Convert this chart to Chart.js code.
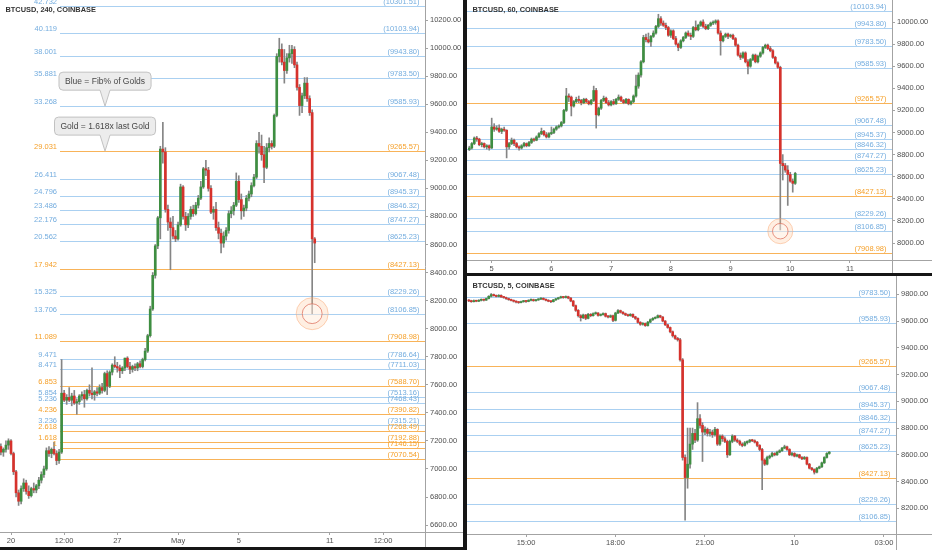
<!DOCTYPE html>
<html>
<head>
<meta charset="utf-8">
<style>
    body { margin: 0; background: #fff; width: 932px; height: 550px; overflow: hidden; position: relative; }
    canvas { position: absolute; }
    .sep { position: absolute; background: #161616; }
</style>
</head>
<body>
<canvas id="h4" width="463" height="547" style="left:0;top:0"></canvas>
<canvas id="h1" width="465" height="273" style="left:467px;top:0"></canvas>
<canvas id="m5" width="465" height="274" style="left:467px;top:276px"></canvas>
<div class="sep" style="left:463px;top:0;width:4px;height:550px"></div>
<div class="sep" style="left:463px;top:273px;width:469px;height:3px"></div>
<div class="sep" style="left:0;top:547px;width:467px;height:3px"></div>

<script src="https://cdn.jsdelivr.net/npm/chart.js"></script>
<script type="text/javascript">
    // fib / gold levels shared by all three panels
    const fibPrices = [10301.51, 10103.94, 9943.80, 9783.50, 9585.93, 9265.57, 9067.48, 8945.37, 8846.32, 8747.27,
        8625.23, 8427.13, 8229.26, 8106.85, 7908.98, 7786.64, 7711.03, 7588.70, 7513.16, 7468.43,
        7390.82, 7315.21, 7268.49, 7192.88, 7146.15, 7070.54];
    const fibRatios = ['42.732', '40.119', '38.001', '35.881', '33.268', '29.031', '26.411', '24.796', '23.486', '22.176',
        '20.562', '17.942', '15.325', '13.706', '11.089', '9.471', '8.471', '6.853', '5.854', '5.236',
        '4.236', '3.236', '2.618', '1.618', '1', ''];
    const fibKinds = ['fib', 'fib', 'fib', 'fib', 'fib', 'gold', 'fib', 'fib', 'fib', 'fib',
        'fib', 'gold', 'fib', 'fib', 'gold', 'fib', 'fib', 'gold', 'fib', 'fib',
        'gold', 'fib', 'gold', 'gold', 'gold', 'gold'];

    // 240 min candles [open, high, low, close], first one at hour -16 (hours from Apr 20 00:00)
    const h4Start = -16;
    const h4Step = 4;
    const h4Candles = [
        [7160,7180,7100,7120],[7120,7150,7090,7140],[7140,7200,7120,7170],[7170,7215,7140,7200],[7200,7210,7100,7110],
        [7110,7120,6960,6980],[6980,6990,6800,6830],[6830,6850,6740,6770],[6770,6880,6750,6860],[6860,6930,6840,6900],
        [6900,6920,6820,6840],[6840,6880,6790,6810],[6810,6870,6800,6860],[6860,6900,6830,6850],[6850,6890,6830,6880],
        [6880,6940,6860,6920],[6920,6980,6900,6960],[6960,7020,6940,7000],[7000,7150,6990,7130],[7130,7160,7090,7110],
        [7110,7150,7080,7140],[7140,7190,7100,7110],[7110,7130,7030,7060],[7060,7140,7040,7120],[7120,7780,7110,7540],
        [7540,7560,7480,7490],[7490,7530,7460,7510],[7510,7580,7480,7490],[7490,7540,7450,7520],[7520,7560,7460,7470],
        [7470,7500,7390,7480],[7480,7530,7460,7520],[7520,7550,7490,7530],[7530,7560,7440,7500],[7500,7570,7490,7560],
        [7560,7600,7520,7540],[7540,7720,7500,7530],[7530,7560,7490,7550],[7550,7580,7520,7540],[7540,7600,7530,7580],
        [7580,7610,7540,7560],[7560,7690,7550,7680],[7680,7700,7530,7590],[7590,7700,7580,7690],[7690,7750,7670,7740],
        [7740,7800,7720,7730],[7730,7760,7690,7720],[7720,7740,7650,7700],[7700,7730,7680,7720],[7720,7790,7700,7790],
        [7790,7800,7720,7730],[7730,7760,7680,7710],[7710,7740,7690,7730],[7730,7750,7700,7720],[7720,7760,7700,7750],
        [7750,7770,7720,7730],[7730,7790,7720,7780],[7780,7860,7770,7840],[7840,7960,7830,7950],[7950,8160,7940,8140],
        [8140,8400,8130,8380],[8380,8600,8360,8590],[8590,8800,8570,8790],[8790,9300,8640,9280],[9280,9470,9180,9260],
        [9260,9290,8830,8850],[8850,8880,8700,8760],[8760,8790,8420,8720],[8720,8800,8640,8660],[8660,8700,8620,8640],
        [8640,8760,8630,8740],[8740,9030,8730,9010],[9010,9020,8780,8800],[8800,8830,8700,8740],[8740,8820,8720,8800],
        [8800,8870,8780,8850],[8850,8880,8800,8820],[8820,8900,8810,8880],[8880,8950,8860,8930],[8930,9050,8920,9010],
        [9010,9150,9000,9140],[9140,9200,9090,9130],[9130,9150,8980,9000],[9000,9020,8820,8830],[8830,8870,8780,8850],
        [8850,8900,8700,8720],[8720,8760,8640,8680],[8680,8710,8540,8610],[8610,8690,8580,8660],[8660,8720,8630,8700],
        [8700,8840,8680,8820],[8820,8870,8790,8840],[8840,8900,8810,8880],[8880,9110,8870,9050],[9050,9090,8900,8920],
        [8920,8960,8780,8840],[8840,8880,8800,8860],[8860,8950,8840,8930],[8930,8980,8910,8960],[8960,9040,8940,9020],
        [9020,9100,9010,9080],[9080,9340,9070,9320],[9320,9400,9250,9300],[9300,9380,9200,9240],[9240,9300,9040,9150],
        [9150,9320,9140,9290],[9290,9360,9260,9320],[9320,9340,9280,9300],[9300,9530,9290,9520],[9520,9960,9510,9940],
        [9940,10070,9900,9990],[9990,10030,9880,9900],[9900,9990,9750,9840],[9840,9960,9820,9930],[9930,10020,9900,9960],
        [9960,10020,9890,9990],[9990,10010,9860,9880],[9880,9900,9700,9720],[9720,9740,9520,9590],[9590,9680,9540,9660],
        [9660,9790,9640,9750],[9750,9790,9620,9640],[9640,9660,9520,9540],[9540,9560,8106,8640],[8640,8650,8470,8610]
    ];
    const h4PriceTicks = [6600, 6800, 7000, 7200, 7400, 7600, 7800, 8000, 8200, 8400, 8600, 8800, 9000, 9200, 9400, 9600, 9800, 10000, 10200];
    const h4TimeTicks = [0, 84, 168, 264, 360, 504, 588];
    const h4TimeLabels = ['20', '12:00', '27', 'May', '5', '11', '12:00'];

    // 60 min candles, first one at hour -9 (hours from May 5 00:00)
    const h1Start = -9;
    const h1Step = 1;
    const h1Candles = [
        [8846,8876,8836,8860],[8860,8910,8850,8900],[8900,8960,8890,8950],[8950,8965,8920,8940],[8940,8948,8880,8890],
        [8890,8912,8870,8900],[8900,8906,8860,8870],[8870,8890,8850,8880],[8880,8888,8840,8860],[8860,9130,8855,9050],
        [9050,9080,9010,9030],[9030,9060,9020,9040],[9040,9070,9000,9010],[9010,9040,8990,9030],[9030,9050,9010,9020],
        [9020,9025,8770,8870],[8870,8910,8850,8900],[8900,8950,8890,8930],[8930,8940,8880,8900],[8900,8910,8860,8870],
        [8870,8880,8840,8860],[8860,8890,8850,8880],[8880,8910,8870,8900],[8900,8906,8870,8880],[8880,8920,8875,8910],
        [8910,8950,8900,8940],[8940,8950,8920,8930],[8930,8970,8925,8960],[8960,9000,8950,8990],[8990,9040,8980,9010],
        [9010,9020,8970,8980],[8980,9000,8950,8960],[8960,9000,8950,8990],[8990,9050,8980,9000],[9000,9040,8990,9030],
        [9030,9060,9020,9050],[9050,9070,9040,9060],[9060,9100,9050,9090],[9090,9210,9080,9200],[9200,9400,9190,9330],
        [9330,9350,9280,9320],[9320,9330,9150,9240],[9240,9290,9230,9280],[9280,9320,9270,9300],[9300,9330,9270,9290],
        [9290,9300,9250,9270],[9270,9310,9260,9300],[9300,9310,9270,9280],[9280,9290,9250,9260],[9260,9300,9250,9290],
        [9290,9420,9280,9380],[9380,9400,9040,9160],[9160,9230,9150,9220],[9220,9300,9210,9290],[9290,9330,9280,9310],
        [9310,9320,9260,9270],[9270,9290,9240,9250],[9250,9290,9240,9280],[9280,9300,9250,9260],[9260,9310,9255,9300],
        [9300,9340,9290,9320],[9320,9330,9280,9290],[9290,9300,9260,9270],[9270,9310,9260,9300],[9300,9305,9250,9260],
        [9260,9290,9250,9280],[9280,9340,9270,9330],[9330,9520,9320,9420],[9420,9540,9400,9520],[9520,9650,9500,9640],
        [9640,9880,9630,9860],[9860,9890,9820,9840],[9840,9900,9810,9820],[9820,9880,9780,9870],[9870,9920,9860,9900],
        [9900,9970,9890,9960],[9960,10070,9950,10030],[10030,10050,9970,9990],[9990,10010,9960,9970],[9970,9990,9930,9950],
        [9950,9960,9870,9880],[9880,9930,9860,9920],[9920,9930,9840,9850],[9850,9870,9790,9800],[9800,9810,9740,9770],
        [9770,9840,9760,9830],[9830,9870,9820,9860],[9860,9910,9850,9900],[9900,9920,9870,9880],[9880,9900,9840,9870],
        [9870,9960,9860,9950],[9950,10010,9920,9930],[9930,9980,9920,9970],[9970,10010,9960,10000],[10000,10020,9950,9960],
        [9960,9980,9930,9940],[9940,9980,9930,9970],[9970,10000,9960,9990],[9990,10010,9975,9995],[9995,10020,9980,10010],
        [10010,10020,9890,9900],[9900,9920,9700,9830],[9830,9880,9820,9870],[9870,9900,9860,9890],[9890,9900,9850,9870],
        [9870,9890,9860,9880],[9880,9890,9840,9850],[9850,9860,9780,9790],[9790,9800,9690,9700],[9700,9720,9660,9680],
        [9680,9730,9670,9720],[9720,9730,9630,9640],[9640,9660,9530,9600],[9600,9670,9590,9660],[9660,9710,9650,9700],
        [9700,9710,9630,9640],[9640,9700,9630,9690],[9690,9730,9680,9720],[9720,9780,9710,9770],[9770,9800,9760,9790],
        [9790,9800,9750,9760],[9760,9780,9730,9740],[9740,9750,9670,9680],[9680,9690,9620,9630],[9630,9640,9580,9590],
        [9590,9600,8118,8720],[8720,8800,8570,8700],[8700,8720,8640,8660],[8660,8700,8340,8620],[8620,8640,8550,8560],
        [8560,8580,8460,8540],[8540,8640,8530,8630]
    ];
    const h1PriceTicks = [8000, 8200, 8400, 8600, 8800, 9000, 9200, 9400, 9600, 9800, 10000];
    const h1TimeTicks = [0, 24, 48, 72, 96, 120, 144];
    const h1TimeLabels = ['5', '6', '7', '8', '9', '10', '11'];

    // 5 min candles, first one at minute -115 (minutes from May 9 15:00)
    const m5Start = -115;
    const m5Step = 5;
    const m5Candles = [
        [9755,9760,9744,9750],[9750,9756,9740,9745],[9745,9758,9742,9752],[9752,9756,9744,9748],[9748,9760,9745,9755],
        [9755,9766,9750,9760],[9760,9764,9750,9756],[9756,9772,9754,9768],[9768,9790,9765,9785],[9785,9806,9780,9798],
        [9798,9802,9786,9790],[9790,9795,9780,9784],[9784,9798,9780,9792],[9792,9796,9776,9780],[9780,9785,9770,9776],
        [9776,9780,9762,9768],[9768,9772,9755,9760],[9760,9765,9750,9754],[9754,9758,9742,9748],[9748,9752,9736,9742],
        [9742,9746,9732,9738],[9738,9750,9735,9745],[9745,9755,9740,9750],[9750,9754,9740,9746],[9746,9760,9744,9755],
        [9755,9766,9750,9760],[9760,9764,9748,9752],[9752,9762,9748,9758],[9758,9768,9754,9764],[9764,9776,9760,9770],
        [9770,9774,9758,9762],[9762,9766,9750,9755],[9755,9760,9744,9748],[9748,9752,9738,9745],[9745,9762,9742,9758],
        [9758,9770,9754,9766],[9766,9778,9762,9774],[9774,9786,9770,9780],[9780,9784,9770,9776],[9776,9788,9772,9782],
        [9782,9786,9766,9772],[9772,9776,9744,9750],[9750,9754,9708,9715],[9715,9720,9672,9680],[9680,9686,9630,9640],
        [9640,9648,9600,9625],[9625,9652,9618,9645],[9645,9650,9610,9620],[9620,9658,9615,9650],[9650,9656,9632,9640],
        [9640,9662,9636,9655],[9655,9668,9650,9660],[9660,9664,9636,9642],[9642,9654,9638,9648],[9648,9662,9644,9656],
        [9656,9660,9630,9636],[9636,9642,9624,9630],[9630,9646,9626,9640],[9640,9644,9596,9605],[9605,9666,9600,9660],
        [9660,9686,9655,9678],[9678,9682,9660,9666],[9666,9670,9650,9656],[9656,9660,9640,9646],[9646,9652,9634,9640],
        [9640,9656,9636,9650],[9650,9654,9626,9632],[9632,9636,9612,9620],[9620,9624,9584,9590],[9590,9596,9568,9576],
        [9576,9588,9570,9582],[9582,9586,9560,9566],[9566,9598,9562,9592],[9592,9616,9588,9610],[9610,9626,9604,9620],
        [9620,9632,9616,9626],[9626,9646,9622,9640],[9640,9644,9624,9630],[9630,9634,9594,9600],[9600,9604,9566,9572],
        [9572,9576,9546,9552],[9552,9556,9512,9520],[9520,9526,9480,9490],[9490,9496,9462,9470],[9470,9478,9450,9460],
        [9460,9470,9300,9310],[9310,9320,8560,8580],[8580,8600,8112,8430],[8430,8800,8350,8530],[8530,8800,8500,8680],
        [8680,8800,8640,8760],[8760,8790,8690,8710],[8710,8990,8700,8870],[8870,8900,8800,8820],[8820,8840,8550,8770],
        [8770,8810,8750,8790],[8790,8800,8740,8760],[8760,8790,8740,8770],[8770,8785,8730,8750],[8750,8805,8740,8790],
        [8790,8795,8670,8680],[8680,8750,8670,8740],[8740,8750,8700,8720],[8720,8735,8690,8700],[8700,8710,8580,8600],
        [8600,8710,8595,8700],[8700,8750,8690,8740],[8740,8745,8700,8710],[8710,8720,8690,8700],[8700,8710,8670,8680],
        [8680,8690,8660,8670],[8670,8700,8665,8690],[8690,8705,8680,8700],[8700,8715,8690,8710],[8710,8716,8698,8705],
        [8705,8712,8688,8695],[8695,8700,8660,8670],[8670,8676,8630,8640],[8640,8648,8340,8560],[8560,8570,8520,8530],
        [8530,8590,8525,8580],[8580,8598,8570,8590],[8590,8620,8585,8610],[8610,8616,8592,8600],[8600,8628,8596,8620],
        [8620,8638,8615,8630],[8630,8656,8625,8650],[8650,8672,8645,8660],[8660,8666,8632,8640],[8640,8646,8594,8600],
        [8600,8618,8592,8610],[8610,8616,8584,8590],[8590,8606,8585,8600],[8600,8604,8574,8580],[8580,8586,8564,8570],
        [8570,8588,8565,8580],[8580,8584,8524,8530],[8530,8536,8494,8500],[8500,8506,8484,8490],[8490,8495,8456,8470],
        [8470,8506,8465,8500],[8500,8516,8495,8510],[8510,8546,8505,8540],[8540,8586,8535,8580],[8580,8616,8575,8610],
        [8610,8626,8604,8620]
    ];
    const m5PriceTicks = [8200, 8400, 8600, 8800, 9000, 9200, 9400, 9600, 9800];
    const m5TimeTicks = [0, 180, 360, 540, 720];
    const m5TimeLabels = ['15:00', '18:00', '21:00', '10', '03:00'];

    // notes and highlighted low, anchored in data units
    const h4Notes = [
        {text: 'Blue = Fib% of Golds', x: 148.6, price: 9585.93},
        {text: 'Gold = 1.618x last Gold', x: 148.6, price: 9265.57}
    ];

    const upColor = '#3e8e41';
    const downColor = '#d6322c';
    const wickColor = '#858585';
    const axisColor = '#a3a3a3';
    const tickColor = '#4f4f4f';
    const fontFamily = '"Liberation Sans", Arial, sans-serif';

    Chart.defaults.font.family = fontFamily;

    function visibleLevels(y) {
        return fibPrices.map((p, k) => k).filter(k => fibPrices[k] >= y.min && fibPrices[k] <= y.max);
    }

    function clipArea(ctx, a) {
        ctx.beginPath();
        ctx.rect(a.left, a.top, a.right - a.left, a.bottom - a.top);
        ctx.clip();
    }

    // level lines go under the candles, their labels on top
    const fibPlugin = {
        id: 'fibs',
        beforeDatasetsDraw(chart, args, opts) {
            const ctx = chart.ctx;
            const a = chart.chartArea;
            const y = chart.scales.y;
            ctx.save();
            clipArea(ctx, a);
            ctx.lineWidth = 1;
            visibleLevels(y).forEach(k => {
                const py = Math.round(y.getPixelForValue(fibPrices[k])) + 0.5;
                ctx.strokeStyle = fibKinds[k] === 'gold' ? 'rgba(247,166,60,0.85)' : 'rgba(100,170,230,0.55)';
                ctx.beginPath();
                ctx.moveTo(a.left + opts.lineStart, py);
                ctx.lineTo(a.right, py);
                ctx.stroke();
            });
            ctx.restore();
        },
        afterDatasetsDraw(chart, args, opts) {
            const ctx = chart.ctx;
            const a = chart.chartArea;
            const y = chart.scales.y;
            ctx.save();
            clipArea(ctx, a);
            ctx.font = '7.5px ' + fontFamily;
            ctx.textBaseline = 'bottom';
            ctx.textAlign = 'right';
            visibleLevels(y).forEach(k => {
                const py = Math.round(y.getPixelForValue(fibPrices[k])) + 0.5;
                ctx.fillStyle = fibKinds[k] === 'gold' ? '#f5a02a' : '#74addf';
                ctx.fillText('(' + fibPrices[k].toFixed(2) + ')', a.right - 5.5, py - 1);
                if (opts.ratios && fibRatios[k]) {
                    ctx.fillText(fibRatios[k], a.left + opts.ratioRight, py - 1);
                }
            });
            ctx.restore();
        }
    };

    function drawNote(ctx, tx, ty, text) {
        ctx.font = '8.5px ' + fontFamily;
        const w = ctx.measureText(text).width + 12;
        const h = 18;
        const b = ty - 16;
        const t = b - h;
        const l = tx - w / 2;
        const r = l + w;
        const rad = 4;
        ctx.beginPath();
        ctx.moveTo(l + rad, t);
        ctx.lineTo(r - rad, t);
        ctx.arcTo(r, t, r, t + rad, rad);
        ctx.lineTo(r, b - rad);
        ctx.arcTo(r, b, r - rad, b, rad);
        ctx.lineTo(tx + 5, b);
        ctx.lineTo(tx, ty);
        ctx.lineTo(tx - 5, b);
        ctx.lineTo(l + rad, b);
        ctx.arcTo(l, b, l, b - rad, rad);
        ctx.lineTo(l, t + rad);
        ctx.arcTo(l, t, l + rad, t, rad);
        ctx.closePath();
        ctx.fillStyle = '#ececec';
        ctx.fill();
        ctx.strokeStyle = '#c2c2c2';
        ctx.lineWidth = 1;
        ctx.stroke();
        ctx.fillStyle = '#474747';
        ctx.textAlign = 'center';
        ctx.textBaseline = 'middle';
        ctx.fillText(text, tx, t + h / 2 + 0.5);
    }

    const decorPlugin = {
        id: 'decor',
        afterDraw(chart, args, o) {
            const ctx = chart.ctx;
            const a = chart.chartArea;
            const x = chart.scales.x;
            const y = chart.scales.y;
            ctx.save();
            // axis lines carried on into the corner
            ctx.strokeStyle = axisColor;
            ctx.lineWidth = 1;
            ctx.beginPath();
            ctx.moveTo(Math.round(a.right) + 0.5, a.bottom);
            ctx.lineTo(Math.round(a.right) + 0.5, chart.height);
            ctx.moveTo(a.right, Math.round(a.bottom) + 0.5);
            ctx.lineTo(chart.width, Math.round(a.bottom) + 0.5);
            ctx.stroke();

            if (o.mark) {
                const cx = x.getPixelForValue(o.mark.x);
                const cy = y.getPixelForValue(o.mark.price);
                ctx.beginPath();
                ctx.arc(cx, cy, o.mark.r, 0, Math.PI * 2);
                ctx.fillStyle = 'rgba(255,190,140,0.25)';
                ctx.fill();
                ctx.strokeStyle = 'rgba(250,170,120,0.5)';
                ctx.stroke();
                ctx.beginPath();
                ctx.arc(cx, cy, o.mark.r * 0.62, 0, Math.PI * 2);
                ctx.fillStyle = 'rgba(255,255,255,0.35)';
                ctx.fill();
                ctx.strokeStyle = 'rgba(222,112,92,0.75)';
                ctx.stroke();
            }

            (o.notes || []).forEach(n => {
                drawNote(ctx, x.getPixelForValue(n.x), y.getPixelForValue(n.price), n.text);
            });

            ctx.font = 'bold 7.4px ' + fontFamily;
            ctx.fillStyle = '#333';
            ctx.textAlign = 'left';
            ctx.textBaseline = 'middle';
            ctx.fillText(o.title, 5.5, o.titleY);
            ctx.restore();
        }
    };

    function candleChart(id, candles, start, step, opts) {
        const bodies = candles.map((c, i) => ({x: start + i * step, y: [c[0], c[3]]}));
        const wicks = candles.map((c, i) => ({x: start + i * step, y: [c[2], c[1]]}));
        const colors = candles.map(c => c[3] >= c[0] ? upColor : downColor);
        return new Chart(document.getElementById(id), {
            type: 'bar',
            data: {
                datasets: [
                    {data: bodies, backgroundColor: colors, barThickness: 2, minBarLength: 1, grouped: false, order: 0},
                    {data: wicks, backgroundColor: wickColor, barThickness: 1, grouped: false, order: 1}
                ]
            },
            options: {
                responsive: false,
                animation: false,
                events: [],
                layout: {padding: 0},
                scales: {
                    x: {
                        type: 'linear',
                        min: opts.xMin,
                        max: opts.xMax,
                        offset: false,
                        grid: {display: true, offset: false, drawOnChartArea: false, drawTicks: true, tickLength: 3, color: axisColor},
                        border: {display: true, color: axisColor},
                        ticks: {
                            autoSkip: false, maxRotation: 0, padding: 1, color: tickColor, font: {size: 7.5},
                            callback: (v, i) => opts.timeLabels[i]
                        },
                        afterBuildTicks: (ax) => { ax.ticks = opts.timeTicks.map(v => ({value: v})); },
                        afterFit: (ax) => { ax.height = opts.xAxisH; ax.paddingLeft = 0; ax.paddingRight = 0; }
                    },
                    y: {
                        position: 'right',
                        min: opts.yMin,
                        max: opts.yMax,
                        grid: {display: true, offset: false, drawOnChartArea: false, drawTicks: true, tickLength: 3, color: axisColor},
                        border: {display: true, color: axisColor},
                        ticks: {
                            autoSkip: false, padding: 2, color: tickColor, font: {size: 7.5},
                            callback: (v) => v.toFixed(2)
                        },
                        afterBuildTicks: (ax) => { ax.ticks = opts.priceTicks.map(v => ({value: v})); },
                        afterFit: (ax) => { ax.width = opts.yAxisW; ax.paddingTop = 0; ax.paddingBottom = 0; }
                    }
                },
                plugins: {
                    legend: {display: false},
                    tooltip: {enabled: false},
                    fibs: {lineStart: opts.lineStart, ratios: opts.ratios, ratioRight: 57},
                    decor: {title: opts.title, titleY: opts.titleY, mark: opts.mark, notes: opts.notes}
                }
            },
            plugins: [fibPlugin, decorPlugin]
        });
    }

    candleChart('h4', h4Candles, h4Start, h4Step, {
        xMin: -17.39, xMax: 654.3, yMin: 6550.7, yMax: 10342.6,
        xAxisH: 15, yAxisW: 38,
        timeTicks: h4TimeTicks, timeLabels: h4TimeLabels, priceTicks: h4PriceTicks,
        lineStart: 60, ratios: true,
        title: 'BTCUSD, 240, COINBASE', titleY: 9.5,
        mark: {x: h4Start + 123 * h4Step, price: 8106.85, r: 16},
        notes: h4Notes
    });

    candleChart('h1', h1Candles, h1Start, h1Step, {
        xMin: -9.93, xMax: 160.9, yMin: 7846.2, yMax: 10199.1,
        xAxisH: 13, yAxisW: 40,
        timeTicks: h1TimeTicks, timeLabels: h1TimeLabels, priceTicks: h1PriceTicks,
        lineStart: 0, ratios: false,
        title: 'BTCUSD, 60, COINBASE', titleY: 9.5,
        mark: {x: h1Start + 125 * h1Step, price: 8106.85, r: 12.5}
    });

    candleChart('m5', m5Candles, m5Start, m5Step, {
        xMin: -118.7, xMax: 744.2, yMin: 8007.9, yMax: 9936.8,
        xAxisH: 16, yAxisW: 36,
        timeTicks: m5TimeTicks, timeLabels: m5TimeLabels, priceTicks: m5PriceTicks,
        lineStart: 0, ratios: false,
        title: 'BTCUSD, 5, COINBASE', titleY: 9.8
    });
</script>
</body>
</html>
